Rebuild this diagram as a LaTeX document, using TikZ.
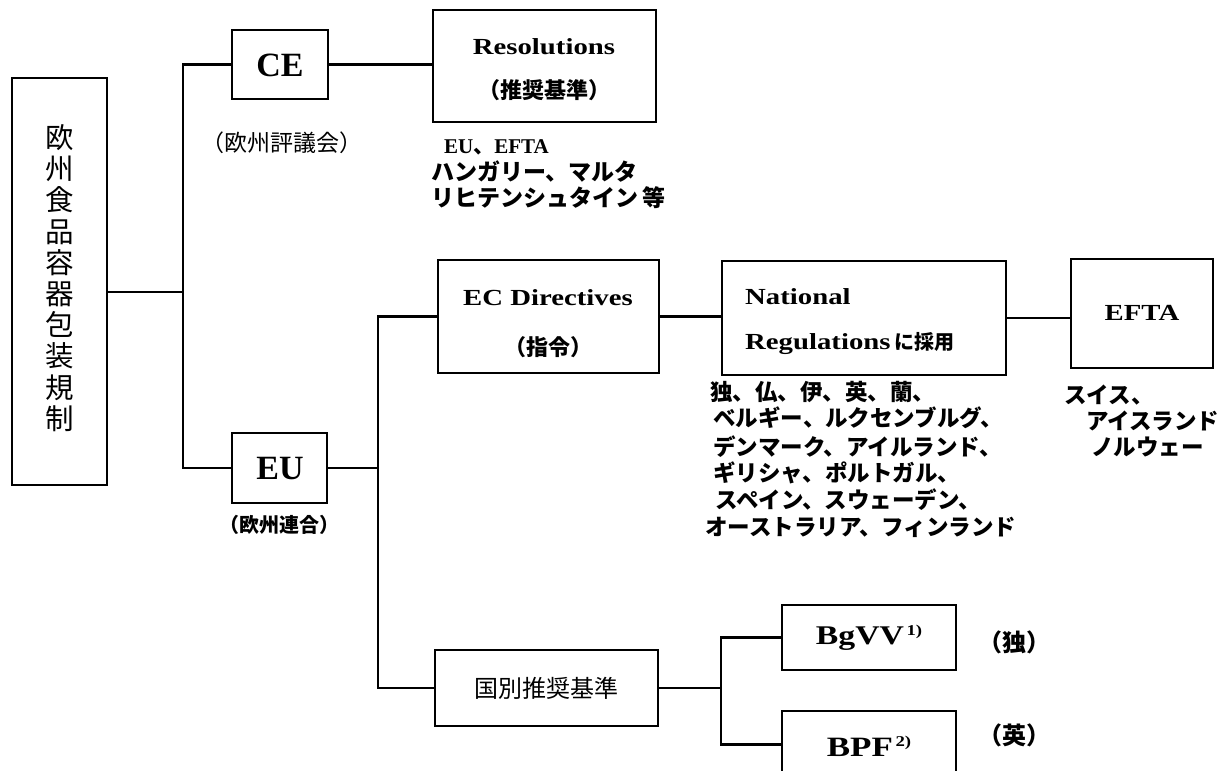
\documentclass[tikz,border=0pt]{standalone}
\usepackage{fontspec}
\setmainfont{Liberation Serif}
\newfontfamily\cen[FakeStretch=1.25]{Liberation Serif}
\newfontfamily\jp{Noto Sans CJK JP}
\newcommand\fsz[1]{\fontsize{#1}{#1}\selectfont}
\begin{document}
\begin{tikzpicture}[x=1pt,y=-1pt,
  box/.style={draw, line width=2.6pt, inner sep=0pt},
  conn/.style={line width=2.6pt},
  lst/.style={anchor=west, inner sep=0pt, font=\jp\bfseries\fsz{22.5}},
  boxtxt/.style={inner sep=0pt, font=\cen\bfseries\fsz{23}}]
\useasboundingbox (0,0) rectangle (1224,771);
% boxes
\node[box, minimum width=95pt, minimum height=407pt] (left) at (59.5,281.5) {};
\node[box, minimum width=96pt, minimum height=69pt] (ce) at (280,64.5) {};
\node[box, minimum width=223pt, minimum height=112pt] (res) at (544.5,66) {};
\node[box, minimum width=95pt, minimum height=70pt] (eu) at (279.5,468) {};
\node[box, minimum width=221pt, minimum height=113pt] (ec) at (548.5,316.5) {};
\node[box, minimum width=284pt, minimum height=114pt] (nat) at (864,318) {};
\node[box, minimum width=142pt, minimum height=109pt] (efta) at (1142,313.5) {};
\node[box, minimum width=223pt, minimum height=76pt] (kb) at (546.5,688) {};
\node[box, minimum width=174pt, minimum height=65pt] (bg) at (869,637.5) {};
\node[box, minimum width=174pt, minimum height=67pt] (bpf) at (869,744.5) {};
% connectors
\coordinate (tM) at (183,292);
\coordinate (tE) at (378,472);
\coordinate (tB) at (721,686);
\draw[conn] (left.east |- tM) -- (tM);
\draw[conn] (ce.west) -| (tM);
\draw[conn] (eu.west) -| (tM);
\draw[conn] (ce.east) -- (ce.east -| res.west);
\draw[conn] (eu.east) -- (eu.east -| tE);
\draw[conn] (ec.west) -| (tE);
\draw[conn] (kb.west) -| (tE);
\draw[conn] (ec.east) -- (ec.east -| nat.west);
\draw[conn] (nat.east) -- (nat.east -| efta.west);
\draw[conn] (kb.east) -- (kb.east -| tB);
\draw[conn] (bg.west) -| (tB);
\draw[conn] (bpf.west) -| (tB);
% texts
\node[font=\jp\fontsize{28.5}{31.2}\selectfont, align=center, inner sep=0pt] (lefttxt) at (60,278) {欧\\州\\食\\品\\容\\器\\包\\装\\規\\制};
\node[inner sep=0pt, font=\bfseries\fsz{34}] (cetxt) at (280,65) {CE};
\node[inner sep=0pt, font=\jp\fsz{23}] (cename) at (282,143) {（欧州評議会）};
\node[boxtxt] (restxt) at (544,47) {Resolutions};
\node[inner sep=0pt, font=\jp\bfseries\fsz{22}] (resjp) at (544,90) {（推奨基準）};
\node[anchor=west, inner sep=0pt, font=\bfseries\fsz{21}] (r1) at (444,147) {EU{\jp 、}EFTA};
\node[lst, font=\jp\bfseries\fsz{23}] (r2) at (431,172) {ハンガリー、マルタ};
\node[lst, font=\jp\bfseries\fsz{23}] (r3) at (431,198) {リヒテンシュタイン\,等};
\node[inner sep=0pt, font=\bfseries\fsz{34}] (eutxt) at (280,469) {EU};
\node[inner sep=0pt, font=\jp\bfseries\fsz{20}] (euname) at (279,525) {（欧州連合）};
\node[boxtxt] (ectxt) at (548,298) {EC Directives};
\node[inner sep=0pt, font=\jp\bfseries\fsz{22}] (ecjp) at (548,347) {（指令）};
\node[boxtxt, anchor=west] (nat1) at (745,297) {National};
\node[boxtxt, anchor=west] (nat2) at (745,343) {Regulations\,{\jp\bfseries\fsz{20}に採用}};
\node[boxtxt] (eftatxt) at (1142,313) {EFTA};
\node[lst] (n1) at (710,392) {独、仏、伊、英、蘭、};
\node[lst] (n2) at (713,418) {ベルギー、ルクセンブルグ、};
\node[lst] (n3) at (713,447) {デンマーク、アイルランド、};
\node[lst] (n4) at (713,473) {ギリシャ、ポルトガル、};
\node[lst] (n5) at (715,500) {スペイン、スウェーデン、};
\node[lst] (n6) at (705,527) {オーストラリア、フィンランド};
\node[lst] (e1) at (1064,395) {スイス、};
\node[lst] (e2) at (1086,421) {アイスランド};
\node[lst] (e3) at (1091,447) {ノルウェー};
\node[inner sep=0pt, font=\jp\fsz{24}] (kbtxt) at (546,688) {国別推奨基準};
\node[inner sep=0pt, font=\cen\bfseries\fsz{27}] (bgtxt) at (869,638) {BgVV\raisebox{9pt}{\fsz{15}\,1)}};
\node[inner sep=0pt, font=\cen\bfseries\fsz{28}] (bpftxt) at (869,746) {BPF\raisebox{10pt}{\fsz{15}\,2)}};
\node[inner sep=0pt, font=\jp\bfseries\fsz{24}] (de) at (1014,642) {（独）};
\node[inner sep=0pt, font=\jp\bfseries\fsz{24}] (uk) at (1014,735) {（英）};
\end{tikzpicture}
\end{document}
